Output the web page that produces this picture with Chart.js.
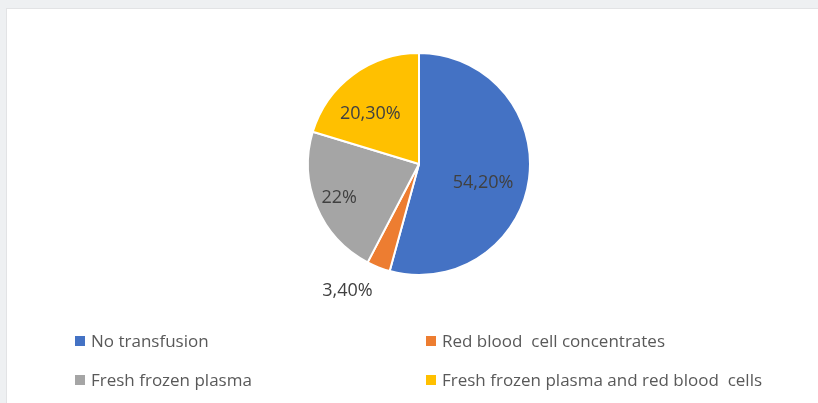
<!DOCTYPE html>
<html>
<head>
<meta charset="utf-8">
<script src="https://cdn.jsdelivr.net/npm/chart.js@4/dist/chart.umd.min.js"></script>
<style>
    html, body {
        margin: 0;
        padding: 0;
        width: 818px;
        height: 403px;
        overflow: hidden;
        background: #eef0f2;
        font-family: 'Open Sans', sans-serif;
    }
    .panel {
        position: absolute;
        left: 6px;
        top: 8px;
        width: 830px;
        height: 420px;
        background: #ffffff;
        border: 1px solid #e2e3e5;
    }
    .chart-wrap {
        position: absolute;
        left: 0;
        top: 0;
        width: 818px;
        height: 403px;
    }
    .legend {
        position: absolute;
        left: 0;
        top: 0;
        width: 818px;
        height: 403px;
        pointer-events: none;
    }
    .legend-item {
        position: absolute;
        display: flex;
        align-items: center;
        font-size: 17px;
        color: #595959;
        white-space: pre;
        line-height: 20px;
    }
    .legend-item .box {
        width: 10px;
        height: 10px;
        margin-right: 6px;
    }
</style>
</head>
<body>
<div class="panel"></div>
<div class="chart-wrap"><canvas id="transfusionChart" width="818" height="403"></canvas></div>
<div class="legend" id="legend"></div>
<script>
// Transfusion categories and their share of patients (%)
const categories = [
    'No transfusion',
    'Red blood  cell concentrates',
    'Fresh frozen plasma',
    'Fresh frozen plasma and red blood  cells'
];
const shares = [54.2, 3.4, 22, 20.3];
const sliceColors = ['#4472c4', '#ed7d31', '#a5a5a5', '#ffc000'];

// Percent text with a decimal comma; whole numbers stay short
function formatShare(v) {
    return Number.isInteger(v) ? v + '%' : v.toFixed(2).replace('.', ',') + '%';
}

/**
 * Value labels drawn on (or beside) each slice
 */
const sliceLabels = {
    id: 'sliceLabels',
    afterDatasetsDraw(chart, args, opts) {
        const ctx = chart.ctx;
        const arcs = chart.getDatasetMeta(0).data;
        ctx.save();
        ctx.font = opts.font;
        ctx.fillStyle = opts.color;
        ctx.textAlign = 'center';
        ctx.textBaseline = 'middle';
        arcs.forEach((arc, i) => {
            const p = arc.getProps(['x', 'y', 'startAngle', 'endAngle', 'outerRadius'], true);
            const mid = (p.startAngle + p.endAngle) / 2;
            const place = opts.placement[i];
            const x = p.x + Math.cos(mid) * p.outerRadius * place[0] + place[1];
            const y = p.y + Math.sin(mid) * p.outerRadius * place[0] + place[2];
            ctx.fillText(formatShare(shares[i]), x, y);
        });
        ctx.restore();
    }
};

const chart = new Chart(document.getElementById('transfusionChart'), {
    type: 'pie',
    data: {
        labels: categories,
        datasets: [{
            data: shares,
            backgroundColor: sliceColors,
            borderColor: '#ffffff',
            borderWidth: 2
        }]
    },
    options: {
        responsive: false,
        animation: false,
        layout: {
            padding: { left: 307, right: 287, top: 52, bottom: 127 }
        },
        plugins: {
            legend: { display: false },
            tooltip: { enabled: false },
            sliceLabels: {
                font: '18px "Open Sans"',
                color: '#404040',
                // [radius factor, x nudge, y nudge]
                placement: [[0.6, -2, 10], [1.22, -22, 1], [0.78, 0, 0], [0.63, -7, 6]]
            }
        }
    },
    plugins: [sliceLabels]
});

// Two-column legend below the pie
const legendSlots = [
    { left: 75, top: 331 },
    { left: 426, top: 331 },
    { left: 75, top: 370 },
    { left: 426, top: 370 }
];
const legendEl = document.getElementById('legend');
categories.forEach((name, i) => {
    const item = document.createElement('div');
    item.className = 'legend-item';
    item.style.left = legendSlots[i].left + 'px';
    item.style.top = legendSlots[i].top + 'px';
    const box = document.createElement('span');
    box.className = 'box';
    box.style.background = sliceColors[i];
    const text = document.createElement('span');
    text.textContent = name;
    item.appendChild(box);
    item.appendChild(text);
    legendEl.appendChild(item);
});
</script>
</body>
</html>
